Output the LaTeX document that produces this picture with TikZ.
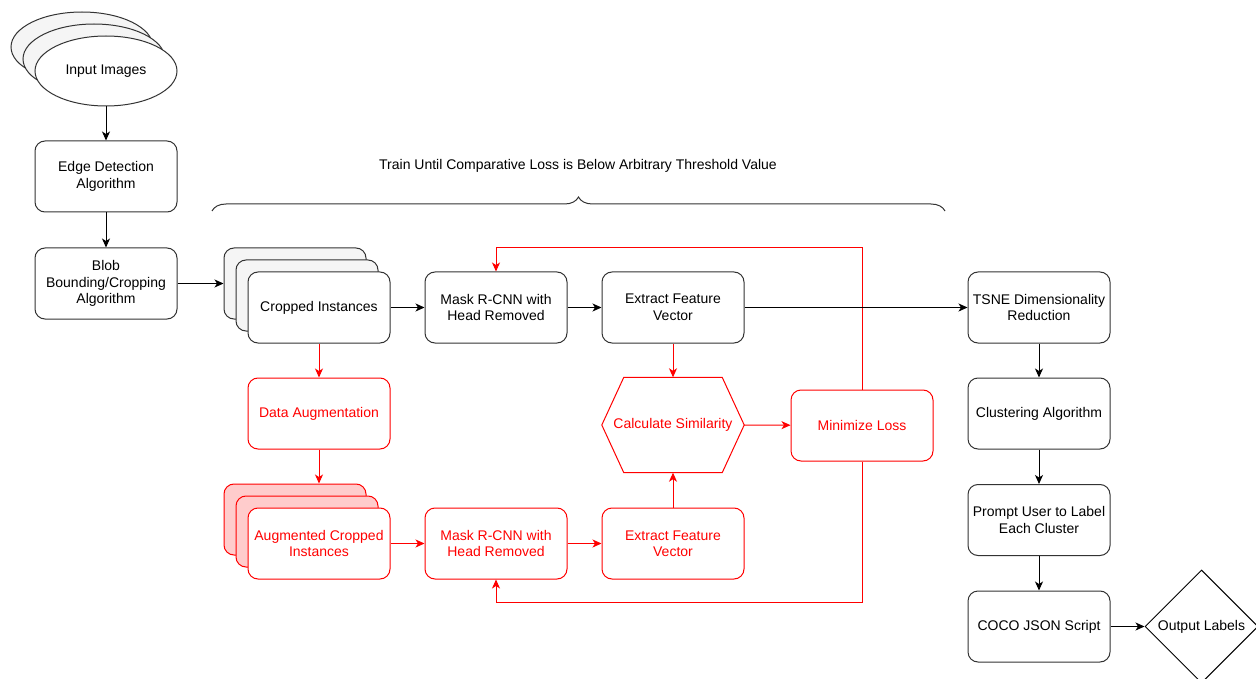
\documentclass[tikz,border=0pt]{standalone}
\usepackage{fontspec}
\setmainfont{Liberation Sans}
\usetikzlibrary{shapes.geometric,arrows.meta,decorations.pathreplacing}
\definecolor{dred}{HTML}{FF0000}
\definecolor{pinkfill}{HTML}{FFCCCC}
\definecolor{grayfill}{HTML}{F5F5F5}
\definecolor{edge}{HTML}{333333}
\begin{document}
\begin{tikzpicture}[x=1pt,y=-1pt,
  every node/.style={font=\fontsize{14}{16.5}\selectfont, align=center},
  box/.style={draw=edge, line width=1pt, rounded corners=10pt, fill=white, minimum width=142pt, minimum height=71pt, inner sep=2pt},
  rbox/.style={box, draw=dred, text=dred},
  ell/.style={draw=edge, ellipse, line width=1pt, minimum width=142pt, minimum height=70pt, fill=white},
  arr/.style={-{Stealth[length=9pt,width=8pt,inset=2.5pt]}, line width=1pt, black},
  rarr/.style={arr, dred}
]
\useasboundingbox (0,0) rectangle (1256,679);
\clip (0,0) rectangle (1256,679);

% input images
\node[ell, fill=grayfill] (in3) at (82,47) {};
\node[ell, fill=grayfill] (in2) at (94,59) {};
\node[ell] (in1) at (106,71) {Input Images};

\node[box] (edge) at (106,176.5) {Edge Detection\\Algorithm};
\node[box] (blob) at (106,283.5) {Blob\\Bounding/Cropping\\Algorithm};

% cropped instances stack
\node[box, fill=grayfill] (crop3) at (295,283.5) {};
\node[box, fill=grayfill] (crop2) at (307,295.5) {};
\node[box] (crop) at (319,307.5) {Cropped Instances};

\node[box] (mask1) at (496,307.5) {Mask R-CNN with\\Head Removed};
\node[box] (ext1) at (673,307.5) {Extract Feature\\Vector};
\node[box] (tsne) at (1039,307.5) {TSNE Dimensionality\\Reduction};

\node[rbox] (aug) at (319,413.5) {Data Augmentation};

% augmented stack
\node[rbox, fill=pinkfill] (acrop3) at (295,519.5) {};
\node[rbox, fill=pinkfill] (acrop2) at (307,531.5) {};
\node[rbox] (acrop) at (319,543.5) {Augmented Cropped\\Instances};

\node[rbox] (mask2) at (496,543.5) {Mask R-CNN with\\Head Removed};
\node[rbox] (ext2) at (673,543.5) {Extract Feature\\Vector};

% hexagon
\node[minimum width=142pt, minimum height=95pt, inner sep=0pt, text=dred] (hex) at (673,425) {Calculate Similarity};
\draw[dred, line width=1pt] (hex.west) -- ([xshift=22pt]hex.north west) -- ([xshift=-22pt]hex.north east) -- (hex.east) -- ([xshift=-22pt]hex.south east) -- ([xshift=22pt]hex.south west) -- cycle;

\node[rbox] (minl) at (862,425.5) {Minimize Loss};

\node[box] (clus) at (1039,413.5) {Clustering Algorithm};
\node[box] (prompt) at (1039,520) {Prompt User to Label\\Each Cluster};
\node[box] (coco) at (1039,626.5) {COCO JSON Script};
\node[draw=black, diamond, line width=1pt, minimum width=113pt, minimum height=113pt, inner sep=0pt, fill=white] (out) at (1201.5,626.5) {Output Labels};

% title and brace
\node (title) at (578,166) {Train Until Comparative Loss is Below Arbitrary Threshold Value};
\coordinate (bl) at (212,211);
\coordinate (br) at (945,211);
\draw[edge, line width=1pt, decorate, decoration={brace, amplitude=14pt}] (bl) -- (br);

% black arrows
\draw[arr] (in1) -- (edge);
\draw[arr] (edge) -- (blob);
\draw[arr] (blob) -- (crop3);
\draw[arr] (crop) -- (mask1);
\draw[arr] (mask1) -- (ext1);
\draw[arr] (tsne) -- (clus);
\draw[arr] (clus) -- (prompt);
\draw[arr] (prompt) -- (coco);
\draw[arr] (coco) -- (out);

% red loops
\coordinate (topy) at (0,248);
\coordinate (boty) at (0,602);
\draw[rarr] (minl.north) |- (topy -| mask1.north) -- (mask1.north);
\draw[rarr] (minl.south) |- (boty -| mask2.south) -- (mask2.south);

\draw[arr] (ext1) -- (tsne);

% red arrows
\draw[rarr] (crop) -- (aug);
\draw[rarr] (aug.south) -- (aug.south |- acrop3.north);
\draw[rarr] (acrop) -- (mask2);
\draw[rarr] (mask2) -- (ext2);
\draw[rarr] (ext2) -- (hex.south);
\draw[rarr] (ext1) -- (hex.north);
\draw[rarr] (hex.east) -- (minl);
\end{tikzpicture}
\end{document}
